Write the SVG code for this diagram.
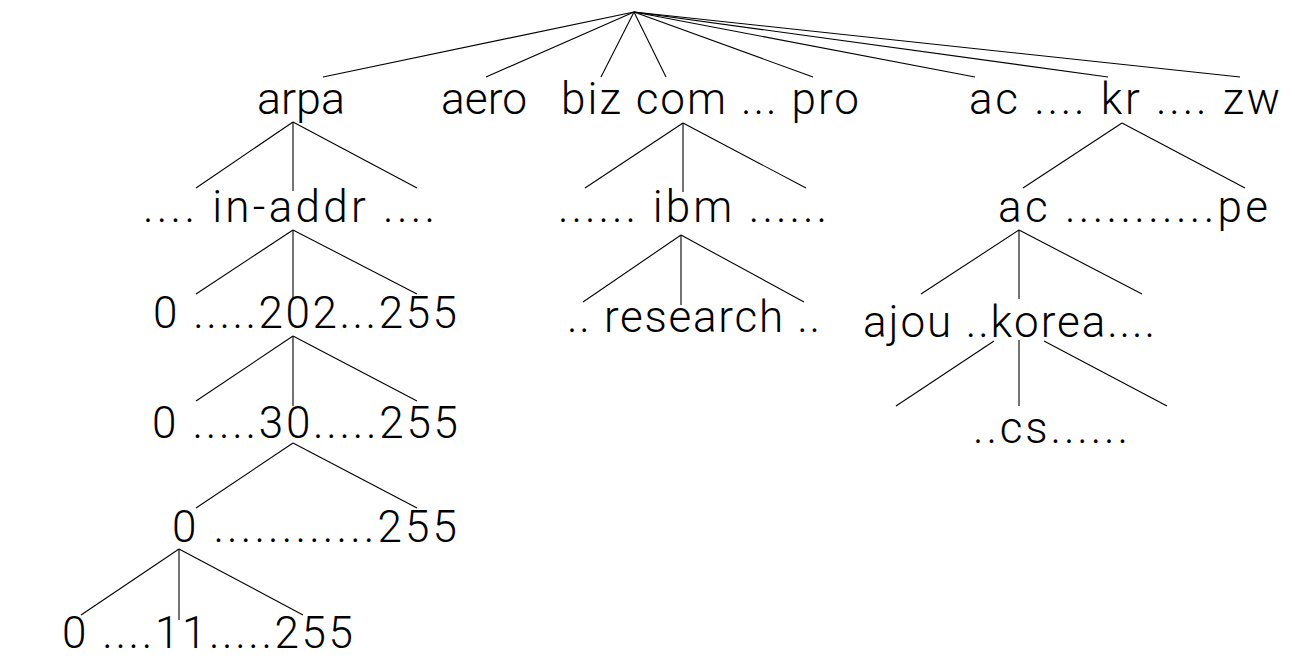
<svg xmlns="http://www.w3.org/2000/svg" width="1295" height="667" viewBox="0 0 1295 667">
<style>
.lbl{font-family:Roboto,"Liberation Sans",Arial,sans-serif;font-weight:300;font-size:44px;fill:#000}
.con line{stroke:#000;stroke-width:1.1;fill:none}
</style>
<rect width="1295" height="667" fill="#fff"/>
<g id="connectors" class="con">
<line x1="634" y1="12" x2="323" y2="77"/>
<line x1="634" y1="12" x2="486" y2="77"/>
<line x1="634" y1="12" x2="601" y2="77"/>
<line x1="634" y1="12" x2="666" y2="77"/>
<line x1="634" y1="12" x2="813" y2="77"/>
<line x1="634" y1="12" x2="975" y2="77"/>
<line x1="634" y1="12" x2="1108" y2="77"/>
<line x1="634" y1="12" x2="1240" y2="77"/>
<line x1="293" y1="122" x2="196" y2="188"/>
<line x1="293" y1="122" x2="293" y2="191"/>
<line x1="293" y1="122" x2="417" y2="188"/>
<line x1="293" y1="230" x2="196" y2="294"/>
<line x1="293" y1="230" x2="293" y2="298"/>
<line x1="293" y1="230" x2="417" y2="294"/>
<line x1="293" y1="336" x2="196" y2="401"/>
<line x1="293" y1="336" x2="293" y2="406"/>
<line x1="293" y1="336" x2="417" y2="401"/>
<line x1="293" y1="443" x2="196" y2="508"/>
<line x1="293" y1="443" x2="417" y2="508"/>
<line x1="179" y1="549" x2="81" y2="615"/>
<line x1="179" y1="549" x2="179" y2="620"/>
<line x1="179" y1="549" x2="303" y2="615"/>
<line x1="683" y1="123" x2="585" y2="188"/>
<line x1="683" y1="123" x2="683" y2="192"/>
<line x1="683" y1="123" x2="806" y2="188"/>
<line x1="681" y1="235" x2="583" y2="302"/>
<line x1="681" y1="235" x2="681" y2="305"/>
<line x1="681" y1="235" x2="804" y2="302"/>
<line x1="1122" y1="123" x2="1023" y2="188"/>
<line x1="1122" y1="123" x2="1245" y2="188"/>
<line x1="1019" y1="230" x2="921" y2="294"/>
<line x1="1019" y1="230" x2="1019" y2="299"/>
<line x1="1019" y1="230" x2="1142" y2="294"/>
<line x1="994" y1="341" x2="896" y2="406"/>
<line x1="1019" y1="340" x2="1019" y2="406"/>
<line x1="1044" y1="341" x2="1167" y2="406"/>
</g>
<g id="n-arpa"><text class="lbl" x="257" y="114" textLength="88" lengthAdjust="spacingAndGlyphs">arpa</text></g>
<g id="n-aero"><text class="lbl" x="441" y="114" textLength="86" lengthAdjust="spacingAndGlyphs">aero</text></g>
<g id="n-gtld"><text class="lbl" x="561" y="114" textLength="298" lengthAdjust="spacing">biz com ... pro</text></g>
<g id="n-cctld"><text class="lbl" x="969" y="114" textLength="311" lengthAdjust="spacing">ac .... kr .... zw</text></g>
<g id="n-inaddr"><text class="lbl" x="143" y="222" textLength="292" lengthAdjust="spacing">.... in-addr ....</text></g>
<g id="n-ibm"><text class="lbl" x="558" y="222" textLength="269" lengthAdjust="spacing">...... ibm ......</text></g>
<g id="n-ac"><text class="lbl" x="998" y="222" textLength="270" lengthAdjust="spacing">ac ...........pe</text></g>
<g id="n-202"><text class="lbl" x="153" y="328" textLength="304" lengthAdjust="spacing">0 .....202...255</text></g>
<g id="n-research"><text class="lbl" x="567" y="332" textLength="253" lengthAdjust="spacing">.. research ..</text></g>
<g id="n-korea"><text class="lbl" x="863" y="337" textLength="292" lengthAdjust="spacing">ajou ..korea....</text></g>
<g id="n-30"><text class="lbl" x="152" y="438" textLength="306" lengthAdjust="spacing">0 .....30.....255</text></g>
<g id="n-cs"><text class="lbl" x="973" y="443" textLength="155" lengthAdjust="spacing">..cs......</text></g>
<g id="n-0"><text class="lbl" x="172" y="542" textLength="285" lengthAdjust="spacing">0 ............255</text></g>
<g id="n-11"><text class="lbl" x="62" y="648" textLength="291" lengthAdjust="spacing">0 ....11.....255</text></g>
</svg>
